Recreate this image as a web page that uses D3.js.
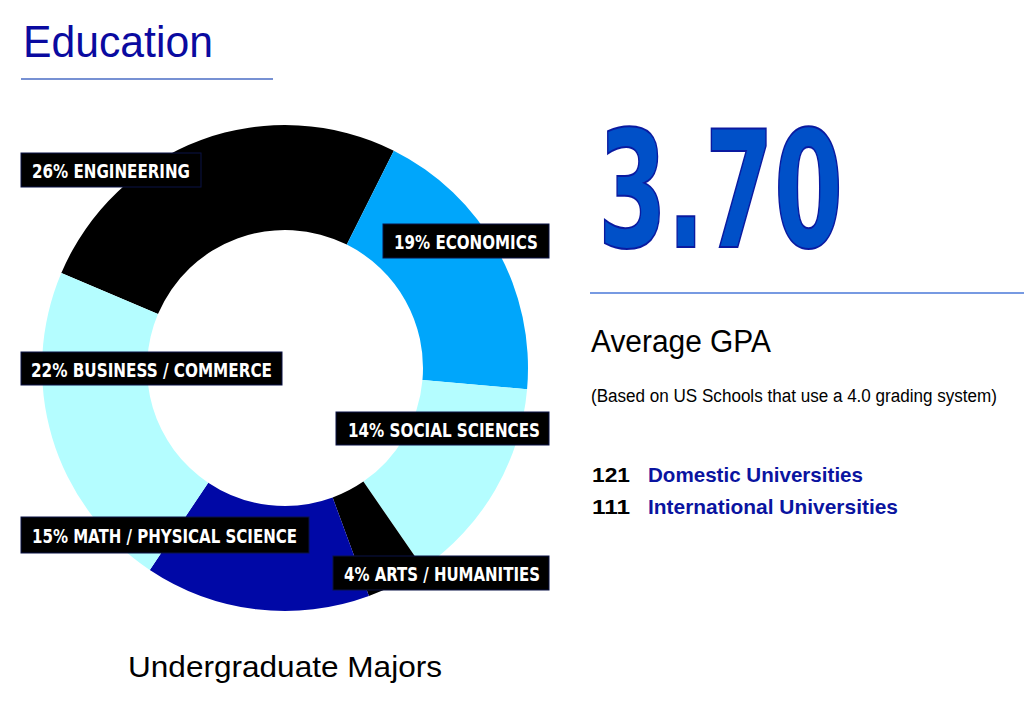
<!DOCTYPE html>
<html>
<head>
<meta charset="utf-8">
<script src="https://cdn.jsdelivr.net/npm/d3@7"></script>
<style>
  html, body { margin: 0; padding: 0; background: #fff; }
  svg { display: block; }
</style>
</head>
<body>
<svg id="chart" width="1024" height="727"></svg>
<script>
// ---- data ----
const majors = ["ENGINEERING", "ECONOMICS", "SOCIAL SCIENCES", "ARTS / HUMANITIES", "MATH / PHYSICAL SCIENCE", "BUSINESS / COMMERCE"];
const shares = [26, 19, 14, 4, 15, 22];
const gpaValue = "3.70";
const uniCounts = [121, 111];
const uniLabels = ["Domestic Universities", "International Universities"];

// ---- styling / layout (not data) ----
const sliceColors = ["#000000", "#00a6fb", "#b4fdff", "#000000", "#0008a6", "#b4fdff"];
const labelBoxes = [
  { x: 21,  y: 153, w: 180, h: 34, tx: 32,  ty: 178, tw: 158 },
  { x: 383, y: 224, w: 166, h: 34, tx: 394, ty: 249, tw: 144 },
  { x: 336, y: 412, w: 213, h: 33, tx: 348, ty: 437, tw: 192 },
  { x: 333, y: 556, w: 216, h: 34, tx: 344, ty: 581, tw: 196 },
  { x: 21,  y: 517, w: 288, h: 36, tx: 32,  ty: 543, tw: 265 },
  { x: 21,  y: 352, w: 261, h: 33, tx: 31,  ty: 377, tw: 241 }
];

const svg = d3.select("#chart");
const sans = "'Liberation Sans', Arial, sans-serif";
const narrow = "'Liberation Sans Narrow', 'DejaVu Sans Condensed', 'Liberation Sans', sans-serif";

// Title
svg.append("text")
  .attr("x", 23).attr("y", 57)
  .attr("font-family", sans).attr("font-size", 44)
  .attr("fill", "#0a0aa0")
  .attr("textLength", 190).attr("lengthAdjust", "spacingAndGlyphs")
  .text("Education");
svg.append("line")
  .attr("x1", 21).attr("x2", 273).attr("y1", 79).attr("y2", 79)
  .attr("stroke", "#4a6cc4").attr("stroke-width", 1.5);

// Donut
const cx = 285, cy = 368;
const deg = Math.PI / 180;
const pie = d3.pie().sort(null).value(d => d)
  .startAngle(-67 * deg).endAngle(-67 * deg + 2 * Math.PI);
const arc = d3.arc().innerRadius(138).outerRadius(243);
const g = svg.append("g").attr("transform", `translate(${cx},${cy})`);
g.selectAll("path").data(pie(shares)).join("path")
  .attr("d", arc)
  .attr("fill", (d, i) => sliceColors[i]);

// Labels
const lab = svg.append("g");
majors.forEach((m, i) => {
  const b = labelBoxes[i];
  lab.append("rect")
    .attr("x", b.x).attr("y", b.y).attr("width", b.w).attr("height", b.h)
    .attr("fill", "#000").attr("stroke", "#0a1246").attr("stroke-width", 1);
  lab.append("text")
    .attr("x", b.tx).attr("y", b.ty)
    .attr("font-family", narrow).attr("font-weight", "bold").attr("font-size", 20)
    .attr("fill", "#fff")
    .attr("textLength", b.tw).attr("lengthAdjust", "spacingAndGlyphs")
    .text(`${shares[i]}% ${m}`);
});

// Subtitle under donut
svg.append("text")
  .attr("x", 128).attr("y", 677)
  .attr("font-family", sans).attr("font-size", 30).attr("fill", "#000")
  .attr("textLength", 314).attr("lengthAdjust", "spacingAndGlyphs")
  .text("Undergraduate Majors");

// GPA big number
svg.append("text")
  .attr("x", 598).attr("y", 247)
  .attr("font-family", narrow).attr("font-weight", "bold").attr("font-size", 162)
  .attr("fill", "#0050c8").attr("stroke", "#0a1aa0").attr("stroke-width", 2)
  .attr("textLength", 245).attr("lengthAdjust", "spacingAndGlyphs")
  .text(gpaValue);
svg.append("line")
  .attr("x1", 590).attr("x2", 1024).attr("y1", 293).attr("y2", 293)
  .attr("stroke", "#4a78d8").attr("stroke-width", 1.5);

svg.append("text")
  .attr("x", 591).attr("y", 352)
  .attr("font-family", sans).attr("font-size", 31).attr("fill", "#000")
  .attr("textLength", 180).attr("lengthAdjust", "spacingAndGlyphs")
  .text("Average GPA");

svg.append("text")
  .attr("x", 591).attr("y", 402)
  .attr("font-family", sans).attr("font-size", 18).attr("fill", "#000")
  .attr("textLength", 406).attr("lengthAdjust", "spacingAndGlyphs")
  .text("(Based on US Schools that use a 4.0 grading system)");

const rowY = [482, 514];
const labelW = [215, 250];
uniCounts.forEach((c, i) => {
  svg.append("text")
    .attr("x", 592).attr("y", rowY[i])
    .attr("font-family", sans).attr("font-weight", "bold").attr("font-size", 21)
    .attr("fill", "#000")
    .attr("textLength", 38).attr("lengthAdjust", "spacingAndGlyphs")
    .text(c);
  svg.append("text")
    .attr("x", 648).attr("y", rowY[i])
    .attr("font-family", sans).attr("font-weight", "bold").attr("font-size", 21)
    .attr("fill", "#0a14a0")
    .attr("textLength", labelW[i]).attr("lengthAdjust", "spacingAndGlyphs")
    .text(uniLabels[i]);
});
</script>
</body>
</html>
